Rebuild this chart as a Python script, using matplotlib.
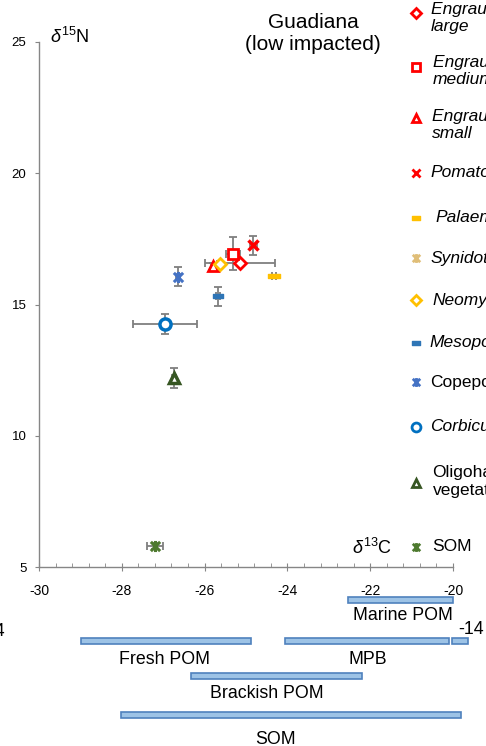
import numpy as np
import matplotlib
matplotlib.use("Agg")
import matplotlib.pyplot as plt
from matplotlib.path import Path
from matplotlib.lines import Line2D
from matplotlib.patches import Rectangle
from matplotlib.ticker import MultipleLocator
from matplotlib.transforms import blended_transform_factory

plt.rcParams['font.family'] = ['Liberation Sans', 'DejaVu Sans']
plt.rcParams['mathtext.fontset'] = 'custom'
plt.rcParams['mathtext.rm'] = 'Liberation Sans'
plt.rcParams['mathtext.it'] = 'Liberation Sans:italic'
plt.rcParams['axes.unicode_minus'] = False

# isotope means and SDs per group
groups = ['Engraulis encrasicolus\nlarge', 'Engraulis encrasicolus\nmedium',
          'Engraulis encrasicolus\nsmall', 'Pomatoschistus', 'Palaemon',
          'Synidotea', 'Neomysis', 'Mesopodopsis', 'Copepods', 'Corbicula',
          'Oligohaline\nvegetation', 'SOM']
d13c = [-25.14, -25.31, -25.79, -24.82, -24.32, np.nan, -25.64, -25.67, -26.64, -26.95, -26.74, -27.20]
d15n = [16.57, 16.93, 16.47, 17.25, 16.09, np.nan, 16.54, 15.31, 16.05, 14.26, 12.20, 5.80]
d13c_sd = [0.84, 0.17, 0.05, 0.08, 0.05, np.nan, 0.05, 0.05, 0.05, 0.77, 0.05, 0.20]
d15n_sd = [0.10, 0.63, 0.10, 0.35, 0.05, np.nan, 0.08, 0.37, 0.36, 0.39, 0.37, 0.10]
italic = [True, True, True, True, True, True, True, True, False, True, False, False]

# source ranges (d13C) drawn under the x axis
sources = ['Marine POM', 'Fresh POM', 'MPB', '', 'Brackish POM', 'SOM']
source_lo = [-22.54, -28.99, -24.07, -20.02, -26.34, -28.03]
source_hi = [-20.00, -24.89, -20.10, -19.64, -22.21, -19.81]

star = Path([(-1, -1), (1, 1), (-1, 1), (1, -1), (0, -1.2), (0, 1.2)],
            [Path.MOVETO, Path.LINETO, Path.MOVETO, Path.LINETO, Path.MOVETO, Path.LINETO])
dash = Path([(-1, -0.4), (1, -0.4), (1, 0.4), (-1, 0.4), (-1, -0.4)],
            [Path.MOVETO, Path.LINETO, Path.LINETO, Path.LINETO, Path.CLOSEPOLY])

styles = [
    dict(marker='D', ms=6, mec='#FF0000', mfc='white', mew=2),
    dict(marker='s', ms=7, mec='#FF0000', mfc='white', mew=2),
    dict(marker='^', ms=7, mec='#FF0000', mfc='white', mew=2),
    dict(marker='x', ms=6.5, mec='#FF0000', mfc='none', mew=2.5),
    dict(marker=dash, ms=8, mec='#FFC000', mfc='#FFC000', mew=1),
    dict(marker=star, ms=8, mec='#E0BE78', mfc='none', mew=2),
    dict(marker='D', ms=6, mec='#FFC000', mfc='white', mew=2),
    dict(marker=dash, ms=7, mec='#2E75B6', mfc='#2E75B6', mew=1),
    dict(marker=star, ms=8, mec='#4472C4', mfc='none', mew=2.2),
    dict(marker='o', ms=8, mec='#0070C0', mfc='white', mew=2.5),
    dict(marker='^', ms=7, mec='#375623', mfc='white', mew=2.5),
    dict(marker=star, ms=8, mec='#4E7A2F', mfc='none', mew=2.2),
]

W, H = 486, 746
fig = plt.figure(figsize=(W / 100, H / 100), dpi=100)
ax = fig.add_axes([39 / W, 179 / H, 414 / W, 525 / H])

for i in range(len(groups)):
    if np.isnan(d13c[i]):
        continue
    ax.errorbar(d13c[i], d15n[i], xerr=d13c_sd[i], yerr=d15n_sd[i],
                fmt='none', ecolor='#7F7F7F', elinewidth=1.3, capsize=3,
                capthick=1.3, zorder=2)
for i in range(len(groups)):
    if np.isnan(d13c[i]):
        continue
    ax.plot(d13c[i], d15n[i], ls='none', zorder=3, **styles[i])

ax.set_xlim(-30, -20)
ax.set_ylim(5, 25)
ax.xaxis.set_major_locator(MultipleLocator(2))
ax.xaxis.set_minor_locator(MultipleLocator(0.4))
ax.yaxis.set_major_locator(MultipleLocator(5))
for s in ['top', 'right']:
    ax.spines[s].set_visible(False)
for s in ['left', 'bottom']:
    ax.spines[s].set_color('#868686')
    ax.spines[s].set_linewidth(1)
ax.tick_params(axis='x', which='major', direction='inout', length=6,
               color='#868686', labelsize=10, pad=9)
ax.tick_params(axis='x', which='minor', direction='in', length=3, color='#868686')
ax.tick_params(axis='y', which='major', direction='out', length=3,
               color='#868686', labelsize=9.5, pad=6)

ax.text((50 - 39) / 414, (567 - 37) / 525, r'$\delta^{15}$N', transform=ax.transAxes,
        fontsize=13, ha='left', va='center')
ax.text((372 - 39) / 414, (567 - 548) / 525, r'$\delta^{13}$C', transform=ax.transAxes,
        fontsize=13, ha='center', va='center')

fig.text(313 / W, 1 - 33 / H, 'Guadiana\n(low impacted)', fontsize=15,
         ha='center', va='center', linespacing=1.2)

# hand-placed legend on the right edge
leg_marker_y = [12.5, 66.7, 118.3, 172.7, 217.7, 258.3, 300, 342.7, 382.3, 426.7, 482.7, 546.7]
leg_text_x = [430.5, 432.5, 431.5, 430.5, 435, 430, 432, 429, 430.5, 430, 432.5, 432.5]
leg_text_y = [17.8, 71.3, 125, 172.7, 217.7, 258.3, 300, 342.7, 382.3, 426.7, 481.5, 546.7]
for i, name in enumerate(groups):
    st = dict(styles[i])
    st['ms'] = st['ms'] * 0.8
    st['mew'] = min(st['mew'], 2)
    fig.add_artist(Line2D([416 / W], [1 - leg_marker_y[i] / H], ls='none',
                          transform=fig.transFigure, **st))
    fig.text(leg_text_x[i] / W, 1 - leg_text_y[i] / H, name, fontsize=12.5,
             style='italic' if italic[i] else 'normal', ha='left', va='center',
             linespacing=1.2)

# source bars under the axis
trans = blended_transform_factory(ax.transData, fig.transFigure)
bar_top = [597, 638, 638, 638, 673, 712]
for i in range(len(sources)):
    ax.add_patch(Rectangle((source_lo[i], 1 - (bar_top[i] + 6) / H),
                           source_hi[i] - source_lo[i], 6 / H, transform=trans,
                           facecolor='#9DC3E6', edgecolor='#4F81BD', lw=1.2,
                           clip_on=False))

lab_x = [-21.20, -26.97, -22.05, None, -24.50, -24.29]
lab_y = [616, 659, 659, None, 693, 740]
for i in range(len(sources)):
    if lab_x[i] is None:
        continue
    ax.text(lab_x[i], 1 - lab_y[i] / H, sources[i], transform=trans,
            fontsize=12.8, ha='center', va='center', clip_on=False)
ax.text(-19.88, 1 - 629 / H, '-14', transform=trans, fontsize=12.8,
        ha='left', va='center')
fig.text(4.5 / W, 1 - 631 / H, '-34', fontsize=12.8, ha='right', va='center')

fig.savefig('out.png', dpi=100)
